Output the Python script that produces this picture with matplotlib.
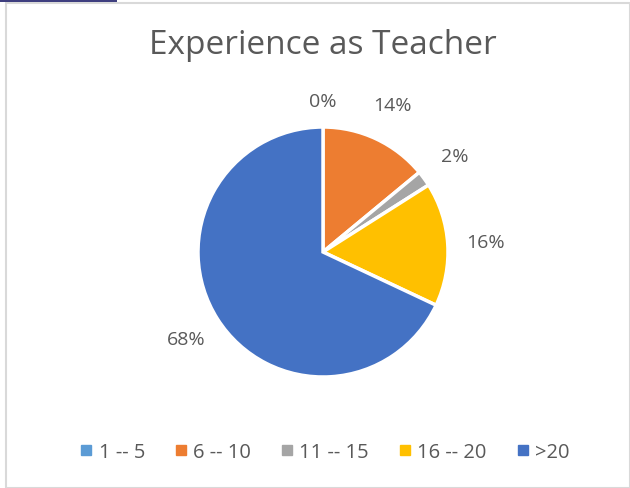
import matplotlib.pyplot as plt
from matplotlib.lines import Line2D
from matplotlib.patches import Rectangle

categories = ['1 -- 5', '6 -- 10', '11 -- 15', '16 -- 20', '>20']
shares = [0, 14, 2, 16, 68]
colors = ['#5B9BD5', '#ED7D31', '#A5A5A5', '#FFC000', '#4472C4']

W, H = 630, 489
fig = plt.figure(figsize=(W / 100, H / 100), dpi=100)
plt.rcParams['font.family'] = ['Open Sans', 'DejaVu Sans']
text_color = '#595959'

# chart frame like the Excel screenshot
fig.patches.append(Rectangle((6 / W, 0), (W - 6) / W, 1 - 4 / H, transform=fig.transFigure,
                             fill=False, edgecolor='#D9D9D9', linewidth=1.5))
fig.patches.append(Rectangle((0, 1 - 3 / H), 117 / W, 3 / H, transform=fig.transFigure,
                             facecolor='#3F3F7F', edgecolor='none'))

# pie axes: center (323, 253) px, radius 125 px
r = 125
cx, cy = 323, 253
side = 3 * r
ax = fig.add_axes([(cx - side / 2) / W, 1 - (cy + side / 2) / H, side / W, side / H])
wedges, texts, autotexts = ax.pie(
    shares, colors=colors, startangle=90, counterclock=False,
    autopct=lambda p: f'{p:.0f}%', pctdistance=1.3,
    wedgeprops=dict(edgecolor='white', linewidth=2.5),
    textprops=dict(color=text_color, fontsize=14))
ax.set_xlim(-1.5, 1.5)
ax.set_ylim(-1.5, 1.5)
ax.set_aspect('equal')
ax.axis('off')
autotexts[0].set_position((0, 1.21))

fig.text(cx / W, 1 - 46 / H, 'Experience as Teacher', ha='center', va='center',
         fontsize=24, color=text_color)

handles = [Line2D([], [], marker='s', linestyle='none', markersize=7,
                  markerfacecolor=c, markeredgecolor=c) for c in colors]
fig.legend(handles, categories, loc='center', bbox_to_anchor=(cx / W, 1 - 453 / H),
           ncol=5, frameon=False, fontsize=14.5, labelcolor=text_color,
           handletextpad=0.1, columnspacing=1.3, handlelength=1.0)

fig.savefig('out.png', dpi=100)
